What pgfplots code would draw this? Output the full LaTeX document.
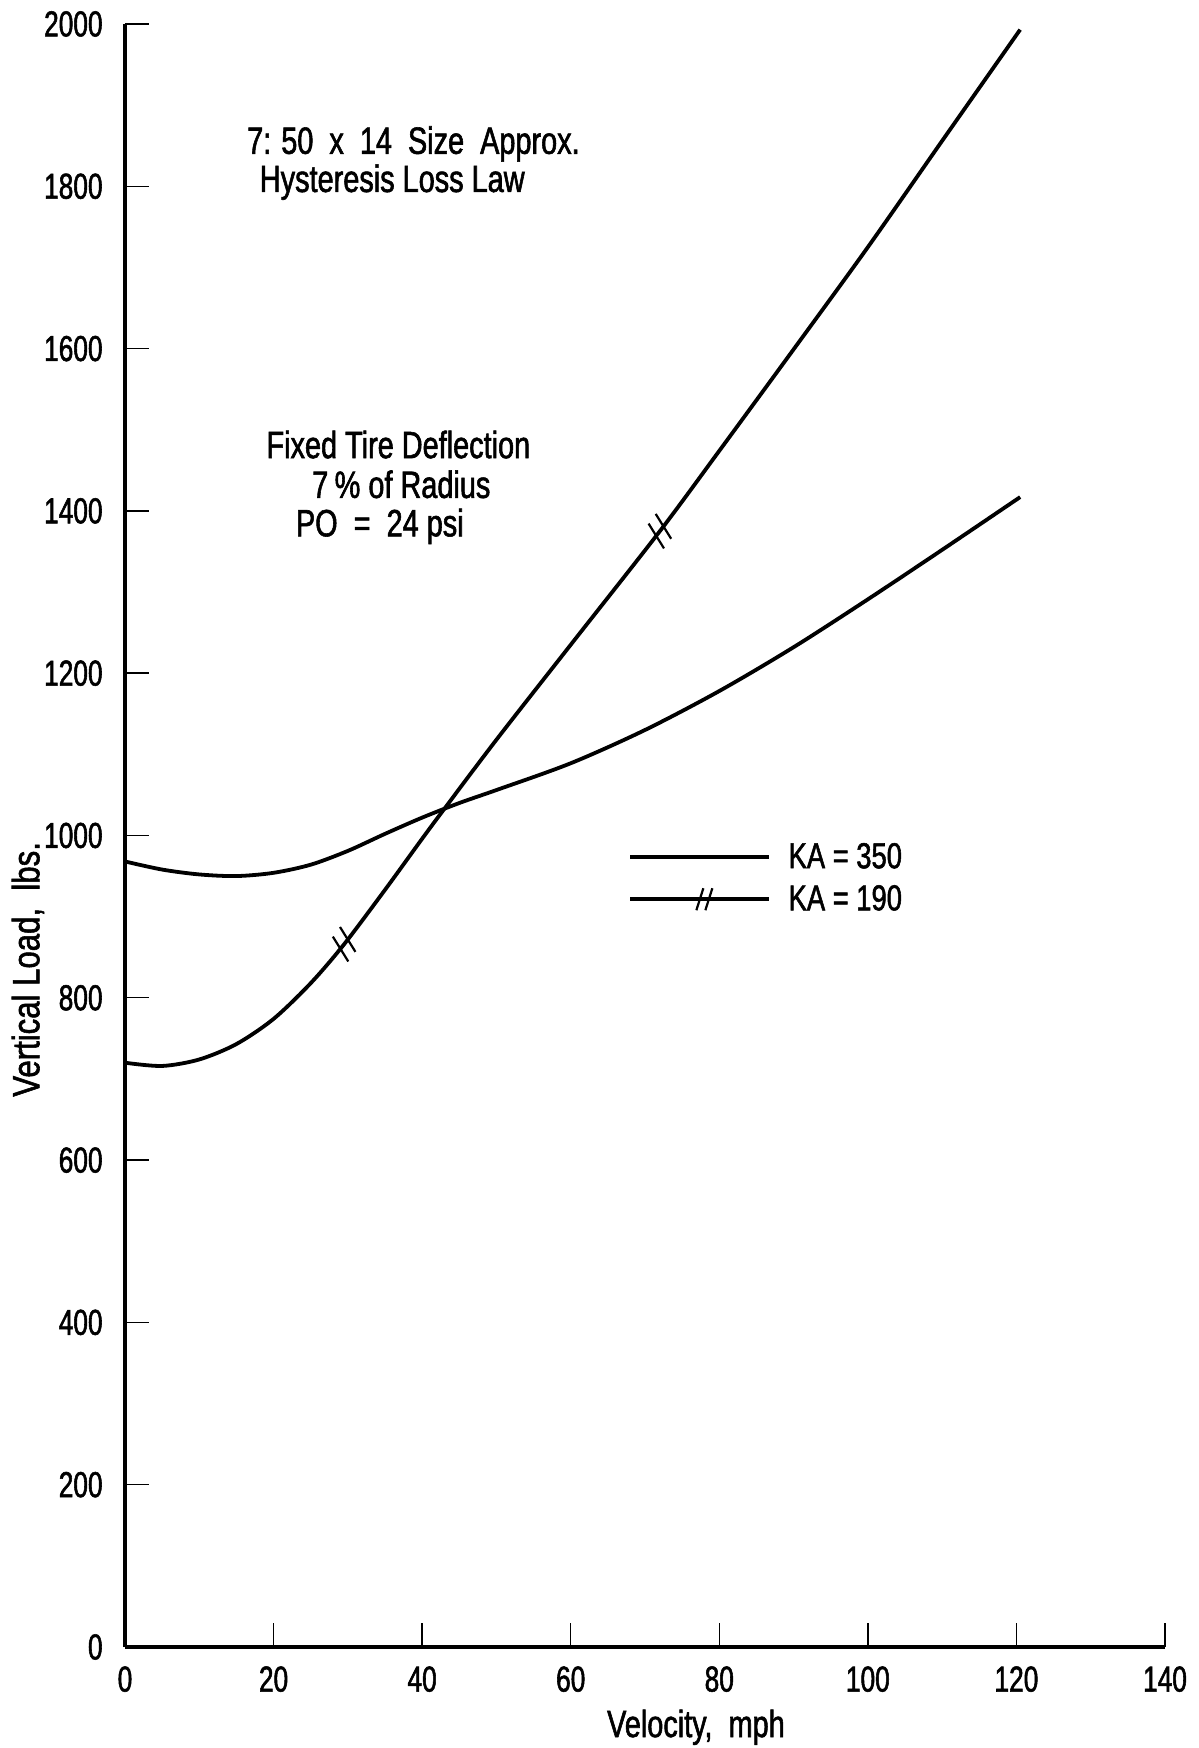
\documentclass[border=0pt]{standalone}
\usepackage{fontspec}
\setmainfont{Liberation Sans}[FakeStretch=0.76, FakeBold=1.5]
\newfontfamily\tickfont{Liberation Sans}[FakeStretch=0.73, FakeBold=1.5]
\newfontfamily\labelfont{Liberation Sans}[FakeStretch=0.82, FakeBold=1.5]
\usepackage{pgfplots}
\pgfplotsset{compat=1.18}

\pgfdeclareplotmark{dslash}{%
  \pgfpathmoveto{\pgfqpoint{-5.7pt}{-6.8pt}}\pgfpathlineto{\pgfqpoint{-0.3pt}{6.8pt}}%
  \pgfpathmoveto{\pgfqpoint{0.3pt}{-6.8pt}}\pgfpathlineto{\pgfqpoint{5.7pt}{6.8pt}}%
  \pgfusepathqstroke}

\begin{document}
\begin{tikzpicture}
\begin{axis}[
  at={(0pt,0pt)}, anchor=south west,
  scale only axis, width=520pt, height=811.5pt,
  xmin=0, xmax=140, ymin=0, ymax=2000,
  axis lines*=left,
  axis line style={line width=2pt},
  xtick={0,20,...,140}, ytick={0,200,...,2000},
  tick align=inside,
  major tick length=12pt,
  major tick style={line width=0.7pt, black},
  /pgf/number format/assume math mode=true,
  /pgf/number format/1000 sep={},
  ticklabel style={font=\tickfont\fontsize{18}{18}\selectfont, inner sep=0pt},
  xticklabel style={anchor=north, yshift=-9.5pt},
  yticklabel style={anchor=east, xshift=-11pt},
  xlabel={Velocity,\ \ mph},
  ylabel={Vertical Load,\ \ lbs.},
  xlabel style={at={(axis description cs:0.549,-0.0555)}, anchor=base, font=\fontsize{19}{19}\selectfont},
  ylabel style={at={(axis description cs:-0.0933,0.4175)}, anchor=center, font=\labelfont\fontsize{19}{19}\selectfont},
  legend cell align=left,
  legend style={at={(axis description cs:0.4837,0.4737)}, anchor=west, draw=none, fill=none,
    inner sep=0pt, font=\fontsize{18}{18}\selectfont, row sep=3pt},
]
\addplot[line width=1.9pt, smooth, black,
  legend image code/.code={\draw[line width=1.9pt] (0pt,0pt) -- (69.5pt,0pt); \path (76.2pt,0pt);}]
  coordinates {(0,968) (5,958) (10,952) (15,950) (20,954) (25,964) (30,981) (35,1002)
    (40,1022) (45,1040) (50,1056) (60,1089) (70,1130) (80,1178) (90,1232) (100,1291)
    (110,1352) (120.5,1417)};
\addlegendentry{KA = 350}
\addplot[line width=1.9pt, smooth, black,
  legend image code/.code={\draw[line width=1.9pt] (0pt,0pt) -- (69.5pt,0pt);
    \draw[line width=1.1pt] (33pt,-5.5pt) -- (36.5pt,5.5pt);
    \draw[line width=1.1pt] (37.5pt,-5.5pt) -- (41pt,5.5pt);
    \path (76.2pt,0pt);}]
  coordinates {(0,720) (5,716) (10,724) (15,743) (20,774) (25,818) (29.5,866) (35,933)
    (40,996) (43,1033) (50,1118) (60,1235) (72,1375) (80,1474) (90,1599) (100,1725)
    (110,1856) (120.5,1993)};
\addlegendentry{KA = 190}
\addplot[only marks, mark=dslash, black, mark options={rotate=53.5, line width=1.1pt}, forget plot]
  coordinates {(29.5,866) (72,1375)};

\node[anchor=base west, inner sep=0pt, font=\fontsize{19}{19}\selectfont] at (axis cs:16.4,1840)
  {7:\hspace{5pt}50\hspace{8pt}x\hspace{8pt}14\hspace{8pt}Size\hspace{8pt}Approx.};
\node[anchor=base west, inner sep=0pt, font=\fontsize{19}{19}\selectfont] at (axis cs:18.1,1793) {Hysteresis Loss Law};
\node[anchor=base, inner sep=0pt, font=\fontsize{19}{19}\selectfont] at (axis cs:36.8,1465) {Fixed Tire Deflection};
\node[anchor=base, inner sep=0pt, font=\fontsize{19}{19}\selectfont] at (axis cs:37.2,1416) {7\,\% of Radius};
\node[anchor=base, inner sep=0pt, font=\fontsize{19}{19}\selectfont] at (axis cs:34.3,1368.7) {PO\ \ =\ \ 24 psi};
\end{axis}
\pgfresetboundingbox
\path[use as bounding box] (-62.5pt,-50.5pt) rectangle (536.5pt,823.5pt);
\end{tikzpicture}
\end{document}
